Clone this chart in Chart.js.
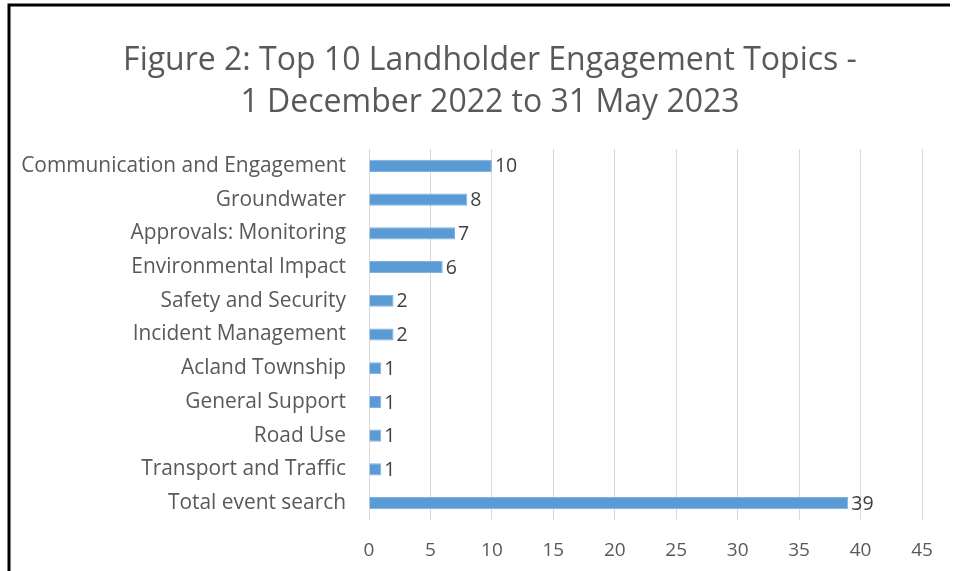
<!DOCTYPE html>
<html>
<head>
<meta charset="utf-8">
<script src="https://cdn.jsdelivr.net/npm/chart.js@4"></script>
<style>
  html, body { margin: 0; padding: 0; background: #fff; }
  #wrap { width: 958px; height: 571px; position: relative; }
</style>
</head>
<body>
<div id="wrap"><canvas id="topicsChart" width="958" height="571"></canvas></div>
<script>
// Chart data
const topics = [
  'Communication and Engagement',
  'Groundwater',
  'Approvals: Monitoring',
  'Environmental Impact',
  'Safety and Security',
  'Incident Management',
  'Acland Township',
  'General Support',
  'Road Use',
  'Transport and Traffic',
  'Total event search'
];
const counts = [10, 8, 7, 6, 2, 2, 1, 1, 1, 1, 39];
const titleLines = ['Figure 2: Top 10 Landholder Engagement Topics -', '1 December 2022 to 31 May 2023'];

const FONT = '"Open Sans", sans-serif';

// Black frame on left and top, plus the two-line title
const framePlugin = {
  id: 'frame',
  beforeDraw(chart) {
    const ctx = chart.ctx;
    ctx.save();
    ctx.fillStyle = '#fff';
    ctx.fillRect(0, 0, chart.width, chart.height);
    ctx.strokeStyle = '#000';
    ctx.lineWidth = 3;
    ctx.beginPath();
    ctx.moveTo(9, chart.height);
    ctx.lineTo(9, 5);
    ctx.lineTo(950, 5);
    ctx.stroke();

    ctx.font = '32px ' + FONT;
    ctx.fillStyle = '#595959';
    ctx.textAlign = 'center';
    ctx.textBaseline = 'middle';
    titleLines.forEach((line, i) => ctx.fillText(line, 490, 61 + i * 42));
    ctx.restore();
  }
};

// Value labels at the bar ends
const valueLabels = {
  id: 'valueLabels',
  afterDatasetsDraw(chart) {
    const ctx = chart.ctx;
    const meta = chart.getDatasetMeta(0);
    ctx.save();
    ctx.font = '19.5px ' + FONT;
    ctx.fillStyle = '#404040';
    ctx.textAlign = 'left';
    ctx.textBaseline = 'middle';
    meta.data.forEach((bar, i) => {
      ctx.fillText(counts[i], bar.x + 3, bar.y + 1);
    });
    ctx.restore();
  }
};

window.onload = () => {
  const ctx = document.getElementById('topicsChart').getContext('2d');
  new Chart(ctx, {
    type: 'bar',
    data: {
      labels: topics,
      datasets: [{
        data: counts,
        backgroundColor: '#5B9BD5',
        borderColor: '#7FB2E0',
        borderWidth: 1,
        categoryPercentage: 1,
        barPercentage: 0.36
      }]
    },
    options: {
      indexAxis: 'y',
      responsive: false,
      animation: false,
      layout: { padding: { left: 22, right: 36, top: 149, bottom: 0 } },
      plugins: {
        legend: { display: false },
        tooltip: { enabled: false },
        title: { display: false }
      },
      scales: {
        x: {
          min: 0,
          max: 45,
          ticks: {
            stepSize: 5,
            color: '#595959',
            font: { family: FONT, size: 19 },
            padding: 19
          },
          grid: { color: '#D9D9D9', lineWidth: 1, drawTicks: false },
          border: { display: false },
          afterFit(axis) {
            axis.paddingLeft = 0;
            axis.paddingRight = 0;
            axis.height = 51;
          }
        },
        y: {
          ticks: {
            color: '#595959',
            font: { family: FONT, size: 20.9 },
            padding: 23,
            autoSkip: false
          },
          grid: { display: false, drawTicks: false },
          border: { display: false },
          afterFit(axis) {
            axis.paddingTop = 0;
            axis.paddingBottom = 0;
            axis.width = 347;
          }
        }
      }
    },
    plugins: [framePlugin, valueLabels]
  });
};
</script>
</body>
</html>
